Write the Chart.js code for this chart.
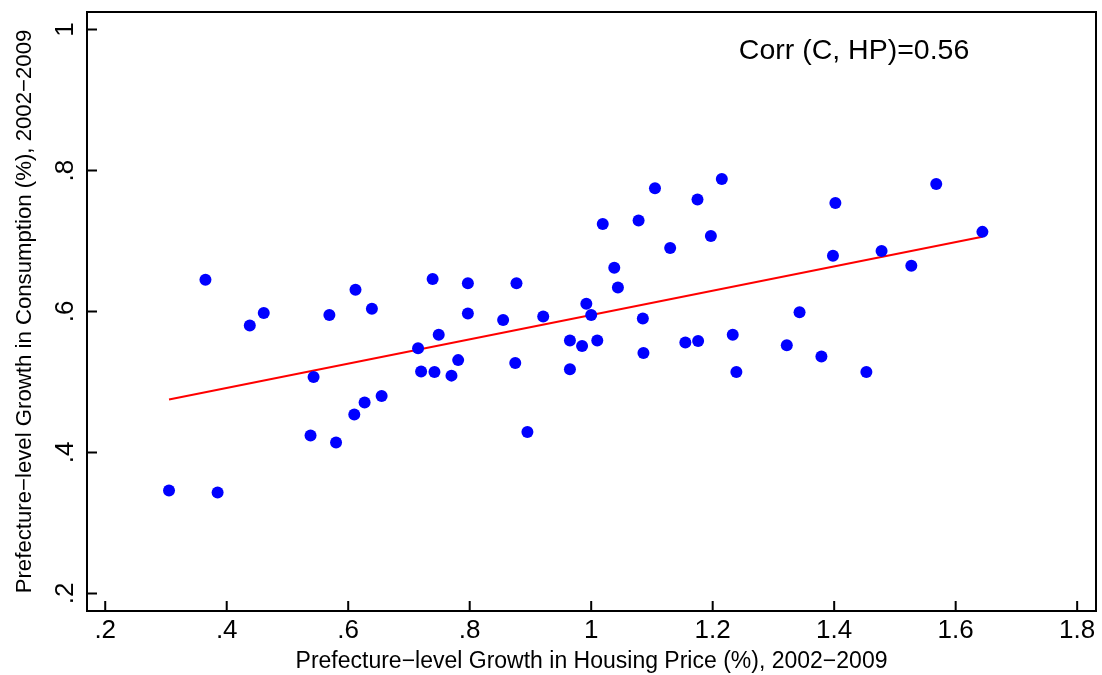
<!DOCTYPE html>
<html lang="en">
  <head>
    <meta charset="UTF-8" />
    <title>Consumption vs Housing Price</title>
    <script src="https://cdn.jsdelivr.net/npm/chart.js@4.4.1/dist/chart.umd.min.js"></script>
    <style>
      body { margin: 0; background: #fff; }
    </style>
  </head>
<body>
<canvas id="chart" width="1102" height="675"></canvas>
<script>

  // growth in housing price (x) and consumption (y) per prefecture
  const housing = [
    0.305, 0.365, 0.385, 0.438, 0.461, 0.538, 0.543, 0.569, 0.580, 0.612,
    0.610, 0.627, 0.639, 0.655, 0.715, 0.720, 0.739, 0.742, 0.749, 0.770,
    0.781, 0.797, 0.797, 0.855, 0.877, 0.875, 0.895, 0.921, 0.965, 0.965,
    0.985, 0.992, 1.000, 1.010, 1.019, 1.038, 1.044, 1.078, 1.085, 1.086,
    1.105, 1.130, 1.155, 1.175, 1.176, 1.197, 1.215, 1.233, 1.239, 1.322,
    1.343, 1.379, 1.398, 1.402, 1.453, 1.478, 1.527, 1.568, 1.644
  ];
  const consumption = [
    0.346, 0.645, 0.343, 0.580, 0.598, 0.424, 0.507, 0.595, 0.414, 0.631,
    0.454, 0.471, 0.604, 0.480, 0.548, 0.515, 0.646, 0.514, 0.567, 0.509,
    0.531, 0.640, 0.597, 0.588, 0.640, 0.527, 0.429, 0.593, 0.559, 0.518,
    0.551, 0.611, 0.595, 0.559, 0.724, 0.662, 0.634, 0.729, 0.590, 0.541,
    0.775, 0.690, 0.556, 0.759, 0.558, 0.707, 0.788, 0.567, 0.514, 0.552,
    0.599, 0.536, 0.679, 0.754, 0.514, 0.686, 0.665, 0.781, 0.713
  ];

  // fitted line end points
  const fitX = [0.305, 1.644];
  const fitY = [0.475, 0.706];

  const xTicks = [0.2, 0.4, 0.6, 0.8, 1.0, 1.2, 1.4, 1.6, 1.8];
  const xTickLabels = ['.2', '.4', '.6', '.8', '1', '1.2', '1.4', '1.6', '1.8'];
  const yTicks = [0.2, 0.4, 0.6, 0.8, 1.0];
  const yTickLabels = ['.2', '.4', '.6', '.8', '1'];

  const xTitle = 'Prefecture\u2212level Growth in Housing Price (%), 2002\u22122009';
  const yTitle = 'Prefecture\u2212level Growth in Consumption (%), 2002\u22122009';
  const corrText = 'Corr (C, HP)=0.56';
  const corrAt = [1.243, 0.958];

  const FONT = '"Liberation Sans", Arial, Helvetica, sans-serif';

  const framePlugin = {
    id: 'frame',
    afterDraw(chart) {
      const ctx = chart.ctx;
      const a = chart.chartArea;
      const xs = chart.scales.x;
      const ys = chart.scales.y;
      ctx.save();
      ctx.strokeStyle = '#000';
      ctx.lineWidth = 2;
      ctx.strokeRect(a.left, a.top, a.right - a.left, a.bottom - a.top);

      // inward ticks
      ctx.beginPath();
      xTicks.forEach(v => {
        const px = xs.getPixelForValue(v);
        ctx.moveTo(px, a.bottom);
        ctx.lineTo(px, a.bottom - 10);
      });
      yTicks.forEach(v => {
        const py = ys.getPixelForValue(v);
        ctx.moveTo(a.left, py);
        ctx.lineTo(a.left + 10, py);
      });
      ctx.stroke();

      ctx.fillStyle = '#000';
      ctx.font = '26px ' + FONT;
      ctx.textAlign = 'center';
      ctx.textBaseline = 'alphabetic';
      xTicks.forEach((v, i) => {
        ctx.fillText(xTickLabels[i], xs.getPixelForValue(v), a.bottom + 27);
      });
      yTicks.forEach((v, i) => {
        ctx.save();
        ctx.translate(a.left - 14, ys.getPixelForValue(v));
        ctx.rotate(-Math.PI / 2);
        ctx.fillText(yTickLabels[i], 0, 0);
        ctx.restore();
      });

      ctx.font = '28.5px ' + FONT;
      ctx.textAlign = 'left';
      ctx.fillText(corrText, xs.getPixelForValue(corrAt[0]), ys.getPixelForValue(corrAt[1]));
      ctx.restore();
    }
  };

  const points = housing.map((x, i) => ({ x: x, y: consumption[i] }));
  const fit = fitX.map((x, i) => ({ x: x, y: fitY[i] }));

  const ctx = document.getElementById('chart').getContext('2d');
  const myChart = new Chart(ctx, {
    type: 'scatter',
    data: {
      datasets: [
        {
          data: points,
          backgroundColor: '#0000ff',
          borderWidth: 0,
          pointRadius: 6,
          pointHoverRadius: 6
        },
        {
          type: 'line',
          data: fit,
          borderColor: '#ff0000',
          borderWidth: 2,
          pointRadius: 0,
          fill: false
        }
      ]
    },
    options: {
      responsive: false,
      animation: false,
      layout: { padding: { top: 12, right: 4 } },
      plugins: { legend: { display: false }, tooltip: { enabled: false } },
      scales: {
        x: {
          type: 'linear',
          min: 0.17,
          max: 1.831,
          grid: { display: false },
          border: { display: false },
          ticks: { display: false },
          afterBuildTicks: s => { s.ticks = xTicks.map(v => ({ value: v })); },
          afterFit: s => { s.height = 64; },
          title: {
            display: true,
            text: xTitle,
            color: '#000',
            font: { family: FONT, size: 23, lineHeight: 1.2 },
            padding: { top: 0, bottom: 0 }
          }
        },
        y: {
          type: 'linear',
          min: 0.175,
          max: 1.025,
          grid: { display: false },
          border: { display: false },
          ticks: { display: false },
          afterBuildTicks: s => { s.ticks = yTicks.map(v => ({ value: v })); },
          afterFit: s => { s.width = 87; },
          title: {
            display: true,
            text: yTitle,
            color: '#000',
            font: { family: FONT, size: 22.2, lineHeight: 1.2 },
            padding: { top: 12, bottom: 0 }
          }
        }
      }
    },
    plugins: [framePlugin]
  });
</script>
</body>
</html>
